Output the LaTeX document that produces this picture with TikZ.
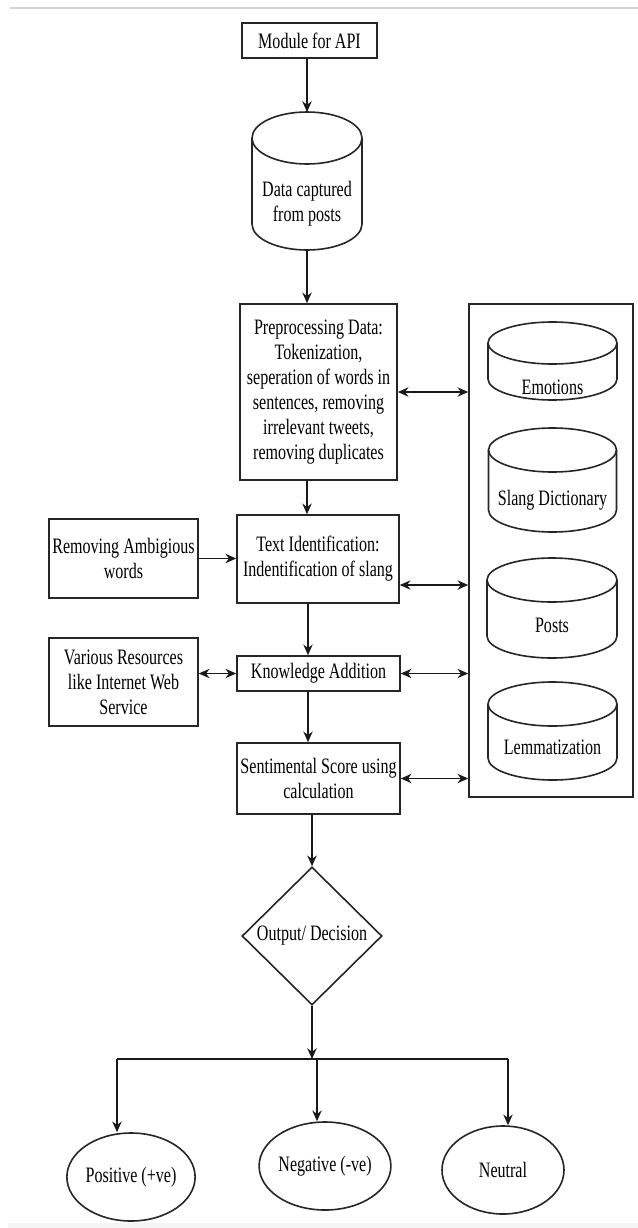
\documentclass[tikz,border=0pt]{standalone}
\usepackage{fontspec}
\setmainfont[FakeStretch=0.73]{Liberation Serif}
\usetikzlibrary{shapes.geometric,arrows.meta}
\newcommand{\fs}{\fontsize{16.5pt}{18.75pt}\selectfont}
% name, cx, top, bottom, rx, ry, text y, text
\newcommand{\mycyl}[8]{%
  \draw[ln] ({#2-#5},{-(#3+#6)}) -- ({#2-#5},{-(#4-#6)})
     arc[start angle=180,end angle=360,x radius=#5,y radius=#6]
     -- ({#2+#5},{-(#3+#6)});
  \draw[ln] (#2,{-(#3+#6)}) ellipse[x radius=#5,y radius=#6];
  \node[txt] (#1) at (#2,-#7) {#8};
  \coordinate (#1top) at (#2,-#3);
  \coordinate (#1bot) at (#2,-#4);
}
\begin{document}
\begin{tikzpicture}[x=0.75pt,y=0.75pt,
  ln/.style={draw=black!85,line width=1.2pt},
  txt/.style={inner sep=0pt,align=center,font=\fs},
  box/.style={ln,rectangle,inner sep=0pt,align=center,font=\fs},
  oval/.style={ln,ellipse,inner sep=0pt,align=center,font=\fs,minimum height=66pt},
  tip/.style={},
  arr/.style={draw=black!90,line width=1.2pt,-{Stealth[length=8pt,width=7pt]}},
  darr/.style={draw=black!90,line width=1.2pt,{Stealth[length=8pt,width=7pt]}-{Stealth[length=8pt,width=7pt]}},
  plain/.style={draw=black!90,line width=1.2pt}]
\fill[white] (0,0) rectangle (638,-1228);
\useasboundingbox (0,0) rectangle (638,-1228);
\draw[gray!35,line width=1.5pt] (10,-8) -- (638,-8);
\fill[gray!8] (8,-1223) rectangle (638,-1228);

% boxes
\node[box,minimum width=101.25pt,minimum height=26.25pt] (api) at (309.5,-40.5) {Module for API};
\mycyl{data}{307}{112}{250}{55}{26}{204}{Data captured\\from posts}
\node[box,minimum width=117.75pt,minimum height=132pt] (pre) at (318.5,-392)
  {Preprocessing Data:\\Tokenization,\\seperation of words in\\sentences, removing\\irrelevant tweets,\\removing duplicates};
\node[box,minimum width=121.5pt,minimum height=66pt] (tid) at (318,-559)
  {Text Identification:\\Indentification of slang};
\node[box,minimum width=111.75pt,minimum height=59.25pt] (amb) at (123.5,-558.5)
  {Removing Ambigious\\words};
\node[box,minimum width=122.25pt,minimum height=26.25pt] (kad) at (318.5,-673.5) {Knowledge Addition};
\node[box,minimum width=111.75pt,minimum height=66pt] (var) at (123.5,-682)
  {Various Resources\\like Internet Web\\Service};
\node[box,minimum width=122.25pt,minimum height=53.25pt] (sen) at (318.5,-778.5)
  {Sentimental Score using\\calculation};
\node[box,minimum width=123pt,minimum height=369.75pt] (big) at (551,-550.5) {};
\mycyl{emo}{552.5}{322}{400}{64.5}{21}{387}{Emotions}
\mycyl{slang}{552.5}{428}{532}{64}{22}{500}{Slang Dictionary}
\mycyl{posts}{552}{558}{658}{65}{22}{625}{Posts}
\mycyl{lem}{552.5}{682}{780}{64.5}{22}{747}{Lemmatization}
\node[ln,diamond,inner sep=0pt,align=center,font=\fs,minimum width=105pt,minimum height=103.5pt] (dec) at (312,-936) {Output/ Decision};
\node[oval,minimum width=93pt] (pos) at (131,-1177) {Positive (+ve)};
\node[oval,minimum width=91.5pt] (neg) at (325,-1166) {Negative (-ve)};
\node[oval,minimum width=91.5pt] (neu) at (503,-1170) {Neutral};

% split coordinates
\coordinate (split) at (312,-1059);
\coordinate (hl) at (117,-1059);
\coordinate (hm) at (317,-1059);
\coordinate (hr) at (508,-1059);

% spine
\draw[arr] (api.south -| datatop) -- (datatop);
\draw[arr] (databot) -- (databot |- pre.north);
\draw[arr] (pre.south -| databot) -- (tid.north -| databot);
\draw[arr] ([xshift=0.75pt]tid.south -| databot) -- ([xshift=0.75pt]kad.north -| databot);
\draw[arr] ([xshift=0.75pt]kad.south -| databot) -- ([xshift=0.75pt]sen.north -| databot);
\draw[arr] (sen.south -| dec.north) -- (dec.north);
\draw[arr] (dec.south) -- (split);
\draw[plain] (hl) -- (hr);
\draw[arr] (hl) -- (hl |- pos.north);
\draw[arr] (hm) -- (hm |- neg.north);
\draw[arr] (hr) -- (hr |- neu.north);

% side connectors
\draw[arr] (amb.east) -- (amb.east -| tid.west);
\draw[darr] (kad.west -| var.east) -- (kad.west);
\draw[darr] (pre.east) -- (pre.east -| big.west);
\draw[darr] ([yshift=-19.5pt]tid.east) -- ([yshift=-19.5pt]tid.east -| big.west);
\draw[darr] (kad.east) -- (kad.east -| big.west);
\draw[darr] (sen.east) -- (sen.east -| big.west);
\end{tikzpicture}
\end{document}
